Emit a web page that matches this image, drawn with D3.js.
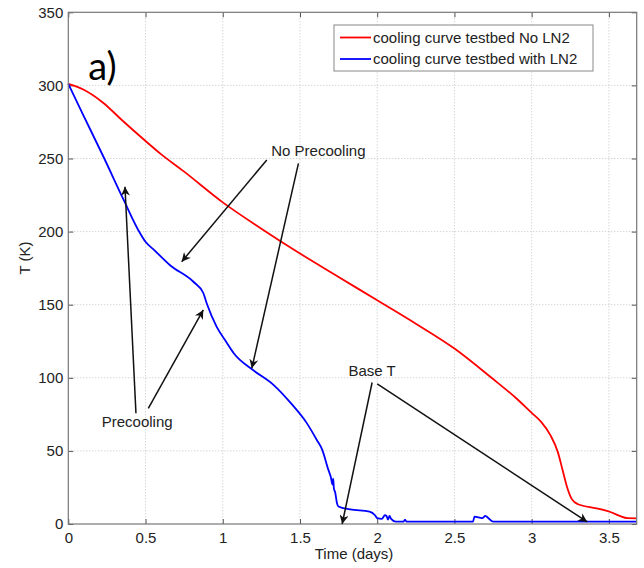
<!DOCTYPE html>
<html>
<head>
<meta charset="utf-8">
<script src="https://cdn.jsdelivr.net/npm/d3@7"></script>
<style>
  body { margin: 0; background: #fff; }
  svg { display: block; font-family: "Liberation Sans", Arial, sans-serif; }
</style>
</head>
<body>
<div id="chart"></div>
<script>
// cooling curves: [time (days), T (K)]
const noLN2 = [
  [0, 301], [0.1, 297], [0.227, 288], [0.35, 276], [0.5, 262], [0.6, 253],
  [0.75, 241], [1.0, 220], [1.25, 202], [1.5, 185], [1.75, 169], [2.0, 153],
  [2.25, 137], [2.5, 120], [2.74, 100], [2.9, 86], [3.0, 76], [3.06, 70],
  [3.12, 61], [3.17, 49], [3.2, 37], [3.23, 25], [3.26, 17], [3.3, 13.5],
  [3.42, 10.7], [3.51, 8.2], [3.57, 5.5], [3.62, 4], [3.68, 3.9]
];
const withLN2 = [
  [0, 301], [0.1, 279], [0.233, 250], [0.357, 222], [0.464, 199], [0.5, 193],
  [0.56, 187], [0.659, 177], [0.81, 165.7], [0.874, 158], [0.896, 151],
  [0.96, 135], [1.026, 124], [1.07, 117], [1.2, 105], [1.33, 95], [1.438, 83],
  [1.544, 69], [1.609, 57.5], [1.643, 51], [1.684, 37], [1.70, 32], [1.71, 27],
  [1.715, 31], [1.72, 24], [1.727, 22], [1.74, 14], [1.749, 12], [1.824, 10],
  [1.95, 8.5], [1.986, 6], [2.0, 4], [2.03, 3.5], [2.05, 6], [2.06, 5.5],
  [2.07, 3], [2.08, 5.5], [2.09, 3.5], [2.12, 1.6], [2.17, 1.6], [2.18, 3],
  [2.19, 1.6], [2.62, 1.6], [2.63, 5], [2.68, 4], [2.7, 5.5], [2.72, 4],
  [2.75, 1.6], [3.68, 1.6]
];
const seriesNames = ["cooling curve testbed No LN2", "cooling curve testbed with LN2"];
const xTicks = [0, 0.5, 1, 1.5, 2, 2.5, 3, 3.5];
const yTicks = [0, 50, 100, 150, 200, 250, 300, 350];

// annotation arrows in data units: [tail, head]
const notes = [
  { label: "No Precooling", at: [1.619, 255], arrows: [[[1.285, 249], [0.734, 179.4]], [[1.49, 246.7], [1.188, 106.5]]] },
  { label: "Precooling", at: [0.446, 69.8], arrows: [[[0.438, 75.7], [0.367, 230.7]], [[0.518, 79.1], [0.874, 146.4]]] },
  { label: "Base T", at: [1.967, 104.6], arrows: [[[1.967, 96.8], [1.773, 0]], [[2.0, 95.8], [3.36, 1.4]]] }
];

const width = 644, height = 568;
const margin = { top: 12.3, right: 7.3, bottom: 44, left: 68.3 };
const iw = width - margin.left - margin.right;
const ih = height - margin.top - margin.bottom;

const svg = d3.select("#chart").append("svg")
  .attr("width", width)
  .attr("height", height);

svg.append("defs").append("marker")
  .attr("id", "head")
  .attr("viewBox", "0 0 10 10")
  .attr("refX", 10).attr("refY", 5)
  .attr("markerWidth", 9).attr("markerHeight", 9)
  .attr("markerUnits", "userSpaceOnUse")
  .attr("orient", "auto")
  .append("path")
  .attr("d", "M0,0 L10,5 L0,10 L3,5 Z")
  .attr("fill", "#111");

const g = svg.append("g").attr("transform", `translate(${margin.left},${margin.top})`);

const x = d3.scaleLinear().domain([0, 3.68]).range([0, iw]);
const y = d3.scaleLinear().domain([0, 350]).range([ih, 0]);

// dotted grid
g.append("g").selectAll("line").data(xTicks.slice(1)).join("line")
  .attr("x1", d => x(d)).attr("x2", d => x(d))
  .attr("y1", 0).attr("y2", ih)
  .attr("stroke", "#c4c4c4").attr("stroke-dasharray", "1,2");
g.append("g").selectAll("line").data(yTicks.slice(1, -1)).join("line")
  .attr("x1", 0).attr("x2", iw)
  .attr("y1", d => y(d)).attr("y2", d => y(d))
  .attr("stroke", "#c4c4c4").attr("stroke-dasharray", "1,2");

// axes, MATLAB style ticks pointing inward
const fmt = d3.format("");
const styleAxis = sel => {
  sel.select(".domain").remove();
  sel.selectAll("line").attr("stroke", "#555");
  sel.selectAll("text").attr("fill", "#222").style("font-size", "15px");
};
g.append("g").attr("transform", `translate(0,${ih})`)
  .call(d3.axisBottom(x).tickValues(xTicks).tickFormat(fmt).tickSize(-5).tickPadding(8))
  .call(styleAxis);
g.append("g")
  .call(d3.axisLeft(y).tickValues(yTicks).tickFormat(fmt).tickSize(-5).tickPadding(5))
  .call(styleAxis);
g.append("g")
  .call(d3.axisTop(x).tickValues(xTicks).tickFormat("").tickSize(-5))
  .call(styleAxis);
g.append("g").attr("transform", `translate(${iw},0)`)
  .call(d3.axisRight(y).tickValues(yTicks).tickFormat("").tickSize(-5))
  .call(styleAxis);

// curves
const line = d3.line().x(d => x(d[0])).y(d => y(d[1])).curve(d3.curveMonotoneX);
g.append("path").datum(noLN2)
  .attr("d", line).attr("fill", "none")
  .attr("stroke", "#ff0000").attr("stroke-width", 1.8);
g.append("path").datum(withLN2)
  .attr("d", line).attr("fill", "none")
  .attr("stroke", "#0000ff").attr("stroke-width", 1.8);

// box
g.append("rect").attr("width", iw).attr("height", ih)
  .attr("fill", "none").attr("stroke", "#777").attr("stroke-width", 1.2);

// annotations
notes.forEach(n => {
  n.arrows.forEach(a => {
    g.append("line")
      .attr("x1", x(a[0][0])).attr("y1", y(a[0][1]))
      .attr("x2", x(a[1][0])).attr("y2", y(a[1][1]))
      .attr("stroke", "#111").attr("stroke-width", 1.5)
      .attr("marker-end", "url(#head)");
  });
  g.append("text")
    .attr("x", x(n.at[0])).attr("y", y(n.at[1]))
    .attr("text-anchor", "middle").attr("dy", "0.35em")
    .attr("fill", "#222").style("font-size", "15px")
    .text(n.label);
});

// panel label
g.append("text")
  .attr("x", 20).attr("y", 68)
  .style("font-family", "Lato, 'Open Sans', sans-serif")
  .style("font-size", "38px")
  .attr("fill", "#000")
  .text("a)");

// legend
const lg = svg.append("g").attr("transform", "translate(334,25)");
lg.append("rect").attr("width", 259).attr("height", 46)
  .attr("fill", "#fff").attr("stroke", "#888");
[["#ff0000", seriesNames[0]], ["#0000ff", seriesNames[1]]].forEach((d, i) => {
  const yy = 12.5 + i * 21.5;
  lg.append("line").attr("x1", 6).attr("x2", 37).attr("y1", yy).attr("y2", yy)
    .attr("stroke", d[0]).attr("stroke-width", 1.8);
  lg.append("text").attr("x", 39).attr("y", yy).attr("dy", "0.35em")
    .attr("fill", "#222").style("font-size", "15px").text(d[1]);
});

// axis titles
svg.append("text")
  .attr("x", margin.left + x(1.85)).attr("y", 559)
  .attr("text-anchor", "middle").attr("fill", "#222")
  .style("font-size", "15px").text("Time (days)");
svg.append("text")
  .attr("transform", `translate(30,${margin.top + y(182)}) rotate(-90)`)
  .attr("text-anchor", "middle").attr("fill", "#222")
  .style("font-size", "15px").text("T (K)");
</script>
</body>
</html>
